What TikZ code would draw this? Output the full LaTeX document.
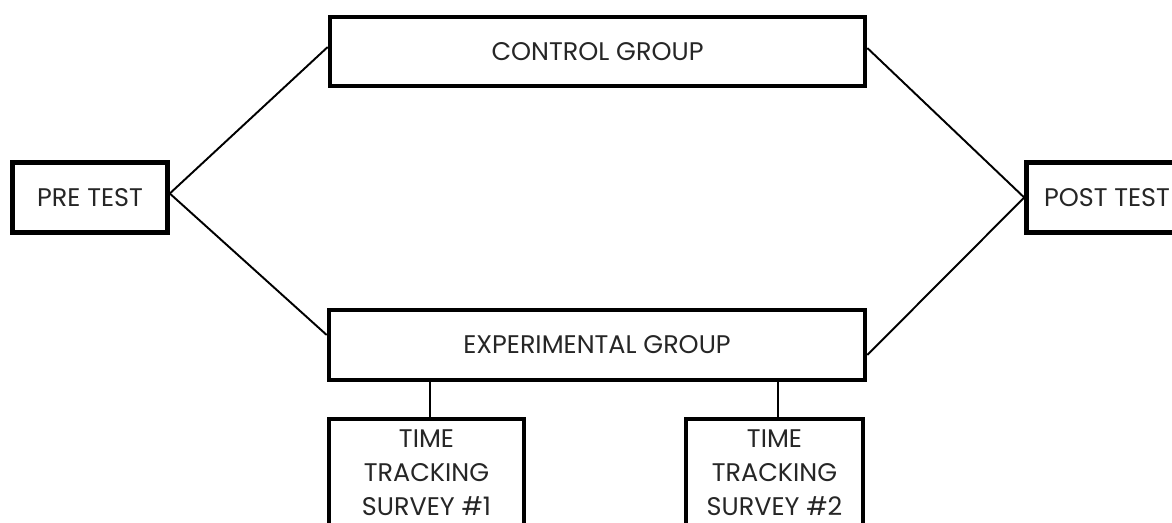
\documentclass[tikz,border=0pt]{standalone}
\usepackage{fontspec}
\setmainfont{Poppins}
\tikzset{
  box/.style={draw=black, line width=2.6pt, rectangle, inner sep=0pt, font=\fontsize{14.5}{19.5}\selectfont, text=black!85, align=center},
  link/.style={draw=black, line width=1.1pt}
}
\begin{document}
\begin{tikzpicture}[x=0.02cm, y=-0.02cm]
\useasboundingbox (0,0) rectangle (1172,523);
\fill[white] (0,0) rectangle (1172,523);
\begin{scope}
\clip (0,0) rectangle (1172,523);
\node[box, minimum width=155*0.02cm, minimum height=70*0.02cm] (pre) at (90,197.5) {PRE TEST};
\node[box, minimum width=535*0.02cm, minimum height=69*0.02cm] (ctrl) at (597.5,51.5) {CONTROL GROUP};
\node[box, minimum width=536*0.02cm, minimum height=70*0.02cm] (exp) at (597,345) {EXPERIMENTAL GROUP};
\node[box, minimum width=161*0.02cm, minimum height=70*0.02cm] (post) at (1107,197.5) {POST TEST};
\node[box, minimum width=195*0.02cm, minimum height=107*0.02cm] (s1) at (426.5,472.5) {TIME\\TRACKING\\SURVEY \#1};
\node[box, minimum width=177*0.02cm, minimum height=107*0.02cm] (s2) at (774.5,472.5) {TIME\\TRACKING\\SURVEY \#2};
\coordinate (pr) at ([yshift=0.08cm]pre.east);
\coordinate (pl) at ([yshift=0.0cm]post.west);
\draw[link] (pr) -- ([yshift=0.09cm]ctrl.west);
\draw[link] (pr) -- ([yshift=0.2cm]exp.west);
\draw[link] ([yshift=0.07cm]ctrl.east) -- (pl);
\draw[link] ([yshift=-0.2cm]exp.east) -- (pl);
\draw[link] (exp.south -| 430,0) -- (s1.north -| 430,0);
\draw[link] (exp.south -| 778,0) -- (s2.north -| 778,0);
\end{scope}
\end{tikzpicture}
\end{document}
